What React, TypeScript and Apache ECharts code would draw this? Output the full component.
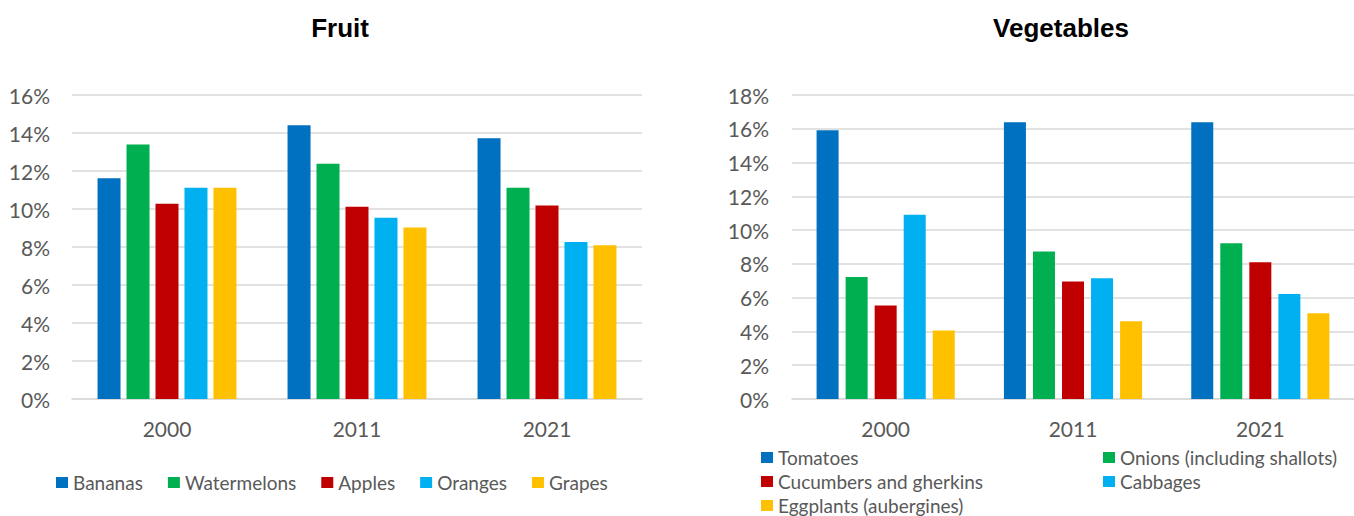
import React, { useEffect, useRef } from "react";
import * as echarts from "echarts";

const years = ["2000", "2011", "2021"];

const fruitNames = ["Bananas", "Watermelons", "Apples", "Oranges", "Grapes"];
const bananas = [11.62, 14.41, 13.72];
const watermelons = [13.39, 12.38, 11.12];
const apples = [10.28, 10.12, 10.19];
const oranges = [11.12, 9.54, 8.26];
const grapes = [11.12, 9.03, 8.09];
const fruitValues = [bananas, watermelons, apples, oranges, grapes];

const vegNames = [
  "Tomatoes",
  "Onions (including shallots)",
  "Cucumbers and gherkins",
  "Cabbages",
  "Eggplants (aubergines)",
];
const tomatoes = [15.92, 16.39, 16.39];
const onions = [7.23, 8.74, 9.22];
const cucumbers = [5.54, 6.96, 8.1];
const cabbages = [10.91, 7.15, 6.21];
const eggplants = [4.05, 4.6, 5.07];
const vegValues = [tomatoes, onions, cucumbers, cabbages, eggplants];

const fruitTicks = { min: 0, max: 16, interval: 2 };
const vegTicks = { min: 0, max: 18, interval: 2 };

const colors = ["#0070C0", "#00B050", "#C00000", "#00B0F0", "#FFC000"];

const FONT = "Lato, 'Open Sans', sans-serif";
const TITLE_FONT = "'Liberation Sans', Arial, sans-serif";
const TEXT = "#595959";
const GRID = "#D9D9D9";

// legend placement for the vegetables chart (two columns, three rows)
const vegLegendPos = [
  { left: 761, top: 448 },
  { left: 1103, top: 448 },
  { left: 761, top: 472 },
  { left: 1103, top: 472 },
  { left: 761, top: 496 },
];

export default function App() {
  const ref = useRef<HTMLDivElement>(null);

  useEffect(() => {
    if (!ref.current) return;
    const chart = echarts.init(ref.current, undefined, { renderer: "svg" });

    const xAxisBase = (gridIndex: number) => ({
      type: "category" as const,
      gridIndex,
      data: years,
      axisLine: { lineStyle: { color: GRID, width: 1.5 } },
      axisTick: { show: false },
      axisLabel: { color: TEXT, fontSize: 21, fontFamily: FONT, margin: 19 },
    });
    const yAxisBase = (
      gridIndex: number,
      t: { min: number; max: number; interval: number },
      margin: number
    ) => ({
      type: "value" as const,
      gridIndex,
      min: t.min,
      max: t.max,
      interval: t.interval,
      axisLine: { show: false },
      axisTick: { show: false },
      splitLine: { lineStyle: { color: GRID, width: 1.5 } },
      axisLabel: {
        color: TEXT,
        fontSize: 21,
        fontFamily: FONT,
        margin,
        formatter: "{value}%",
      },
    });

    const series: any[] = [];
    fruitNames.forEach((n, i) => {
      series.push({
        type: "bar",
        name: n,
        xAxisIndex: 0,
        yAxisIndex: 0,
        data: fruitValues[i],
        barWidth: 23,
        barGap: "26%",
        itemStyle: { color: colors[i] },
      });
    });
    vegNames.forEach((n, i) => {
      series.push({
        type: "bar",
        name: n,
        xAxisIndex: 1,
        yAxisIndex: 1,
        data: vegValues[i],
        barWidth: 22,
        barGap: "32%",
        itemStyle: { color: colors[i] },
      });
    });

    const legendText = { color: TEXT, fontSize: 19, fontFamily: FONT };

    const vegLegends = vegNames.map((n, i) => ({
      data: [n],
      left: vegLegendPos[i].left,
      top: vegLegendPos[i].top,
      padding: 0,
      itemWidth: 12,
      itemHeight: 11,
      itemGap: 0,
      itemTextGap: 6,
      icon: "rect",
      textStyle: legendText,
    }));

    chart.setOption({
      animation: false,
      title: [
        {
          text: "Fruit",
          left: 340,
          top: 15,
          padding: 0,
          textAlign: "center",
          textStyle: { fontSize: 26, fontWeight: "bold", color: "#000", fontFamily: TITLE_FONT },
        },
        {
          text: "Vegetables",
          left: 1061,
          top: 15,
          padding: 0,
          textAlign: "center",
          textStyle: { fontSize: 26, fontWeight: "bold", color: "#000", fontFamily: TITLE_FONT },
        },
      ],
      grid: [
        { left: 72, top: 95, width: 570, height: 304 },
        { left: 792, top: 95, width: 570, height: 304 },
      ],
      xAxis: [xAxisBase(0), xAxisBase(1)],
      yAxis: [yAxisBase(0, fruitTicks, 22), yAxisBase(1, vegTicks, 23)],
      legend: [
        {
          data: fruitNames,
          left: 56,
          top: 473,
          padding: 0,
          itemWidth: 12,
          itemHeight: 11,
          itemGap: 25,
          itemTextGap: 5,
          icon: "rect",
          textStyle: legendText,
        },
        ...vegLegends,
      ],
      series,
    });

    return () => chart.dispose();
  }, []);

  return (
    <div
      ref={ref}
      style={{ position: "fixed", left: 0, top: 0, width: 1354, height: 516, background: "#fff" }}
    />
  );
}
